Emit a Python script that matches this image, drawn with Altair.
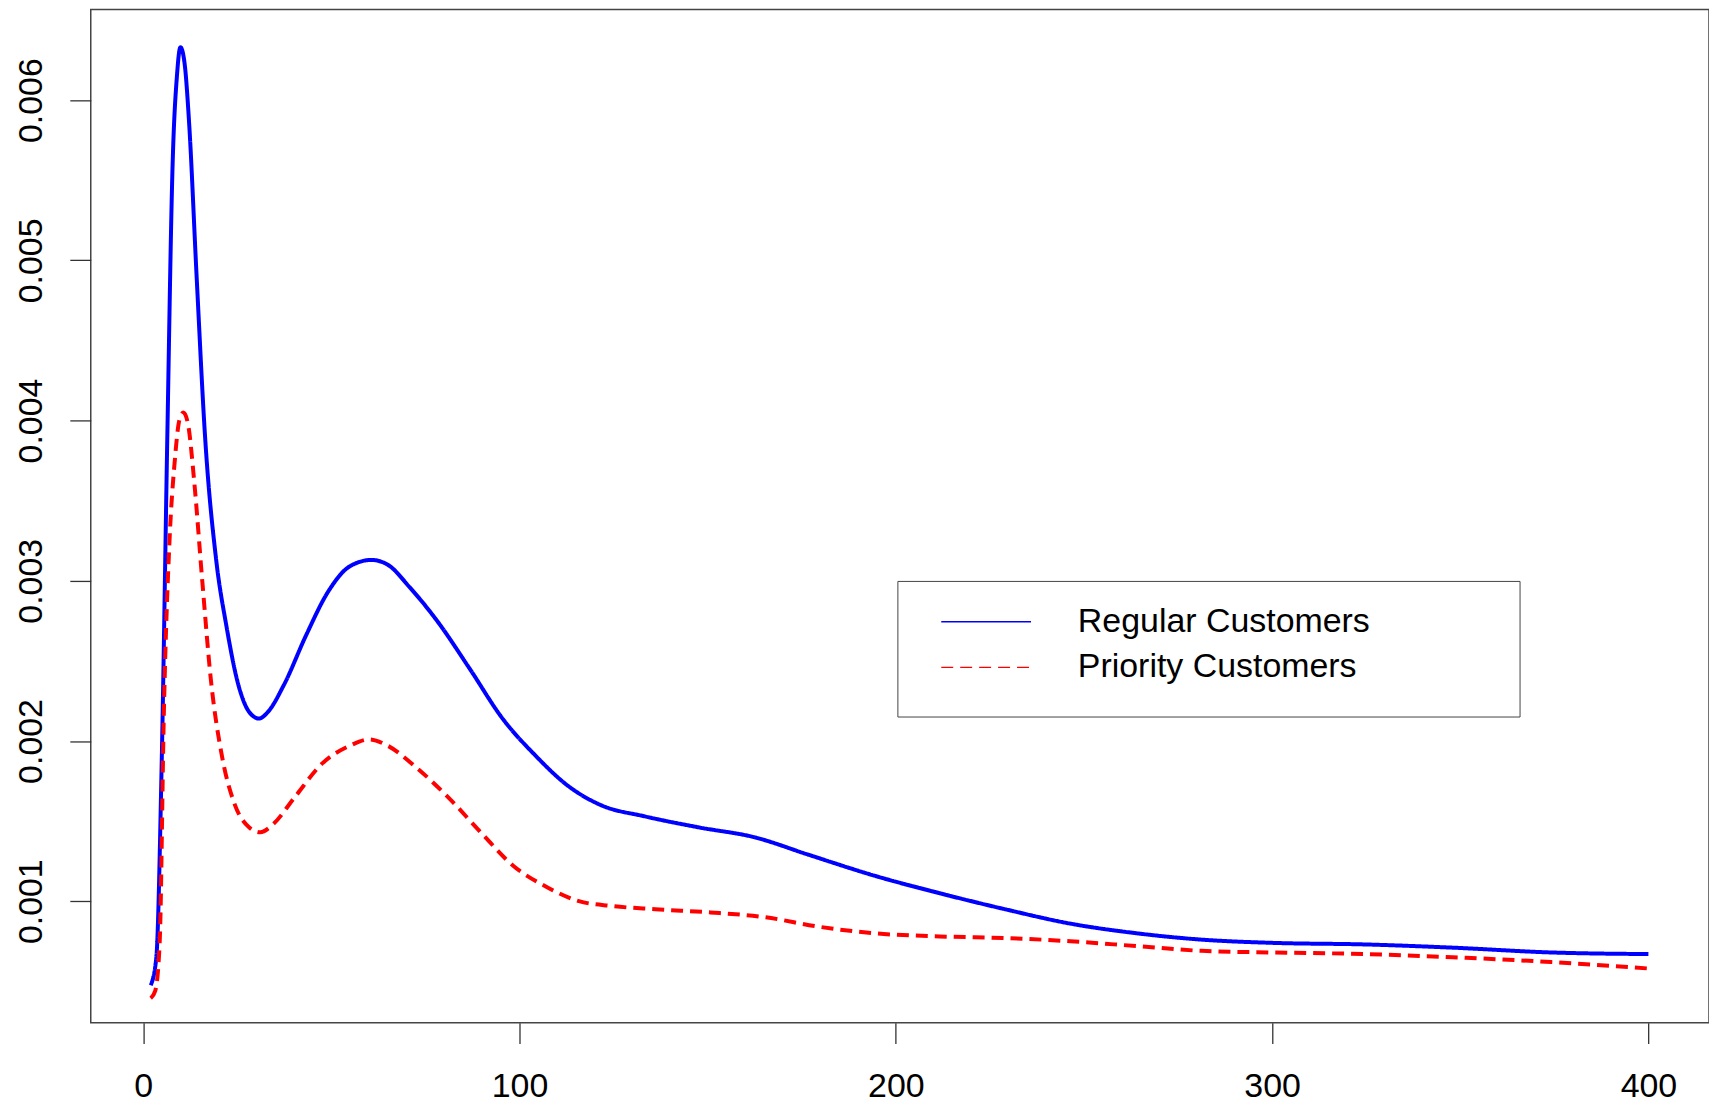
import altair as alt
import pandas as pd

series_names = ["Regular Customers", "Priority Customers"]

regular_x = [2, 3.5, 4.9, 6.4, 7.8, 9.0, 9.9, 11.0, 12.2, 14.2, 16.5, 19.4, 22.1, 25.3,
             28.2, 30.8, 33.1, 37.4, 43.3, 49.1, 54.9, 60.7, 65.0, 70.8, 78.1, 86.8,
             95.5, 104.2, 112.9, 121.6, 133.2, 147.8, 162.3, 176.8, 194.2, 211.6,
             229.0, 246.4, 263.9, 281.3, 300.0, 324.8, 348.0, 374.2, 400.0]
regular_y = [0.000475, 0.00065, 0.00184, 0.00388, 0.00558, 0.00616, 0.00633, 0.00623,
             0.00586, 0.0049, 0.00388, 0.00313, 0.00272, 0.00235, 0.00218, 0.00214,
             0.00218, 0.00235, 0.00266, 0.00293, 0.00309, 0.00313, 0.0031, 0.00296,
             0.00275, 0.00245, 0.00214, 0.00191, 0.00172, 0.0016, 0.00153, 0.00146,
             0.0014, 0.00129, 0.00116, 0.00105, 0.00095, 0.00086, 0.0008, 0.00076,
             0.00074, 0.00073, 0.00071, 0.00068, 0.00067]

priority_x = [2, 3.2, 4.4, 5.5, 7.0, 8.4, 9.6, 10.7, 11.9, 13.6, 15.7, 18.0, 20.9, 24.4,
              28.2, 31.1, 34.5, 40.3, 47.6, 54.9, 60.1, 65.0, 72.3, 81.0, 89.7, 98.4,
              107.1, 115.8, 124.5, 136.1, 150.7, 165.2, 179.7, 194.2, 211.6, 229.0,
              246.4, 263.9, 281.3, 300.0, 324.8, 348.0, 374.2, 400.0]
priority_y = [0.000394, 0.00044, 0.00075, 0.00218, 0.00325, 0.00375, 0.00400, 0.00405,
              0.00398, 0.00361, 0.003, 0.00238, 0.00191, 0.0016, 0.00146, 0.00143,
              0.00148, 0.00165, 0.00186, 0.00197, 0.00201, 0.00197, 0.00184, 0.00165,
              0.00143, 0.00122, 0.00109, 0.001, 0.00097, 0.00095, 0.00093, 0.0009,
              0.00084, 0.0008, 0.00078, 0.00077, 0.00075, 0.00072, 0.00069, 0.00068,
              0.00067, 0.00065, 0.00062, 0.00058]

x_ticks = [0, 100, 200, 300, 400]
y_ticks = [0.001, 0.002, 0.003, 0.004, 0.005, 0.006]

df = pd.concat([
    pd.DataFrame({"x": regular_x, "y": regular_y, "series": series_names[0]}),
    pd.DataFrame({"x": priority_x, "y": priority_y, "series": series_names[1]}),
], ignore_index=True)

FONT = "Liberation Sans"

legend = alt.Legend(
    title=" ", titleOrient="right", titlePadding=126, titleFontSize=89, titleFont=FONT,
    titleBaseline="top", titleAnchor="start",
    orient="none", legendX=809, legendY=573, direction="vertical",
    symbolType="stroke", symbolSize=8100, symbolStrokeWidth=1.5, symbolOpacity=1,
    clipHeight=34, rowPadding=11.7, padding=24, symbolOffset=19, labelOffset=46,
    labelFontSize=34, labelFont=FONT, labelColor="black", labelLimit=1000,
    strokeColor="#444", fillColor="white",
)

chart = alt.Chart(df).mark_line(
    strokeWidth=4, interpolate="monotone", strokeJoin="round", strokeCap="butt"
).encode(
    x=alt.X("x:Q", scale=alt.Scale(domain=[-13.93, 416.1], nice=False, zero=False),
            axis=alt.Axis(values=x_ticks, title=None, format="d", labelAngle=0,
                          labelAlign="center", labelBaseline="alphabetic",
                          labelPadding=52.7)),
    y=alt.Y("y:Q", scale=alt.Scale(domain=[0.000242, 0.006565], nice=False, zero=False),
            axis=alt.Axis(values=y_ticks, title=None, format=".3f", labelAngle=270,
                          labelAlign="center", labelBaseline="alphabetic",
                          labelPadding=28.7)),
    color=alt.Color("series:N", sort=series_names,
                    scale=alt.Scale(domain=series_names, range=["#0000FF", "#FF0000"]),
                    legend=legend),
    strokeDash=alt.StrokeDash("series:N", sort=series_names,
                              scale=alt.Scale(domain=series_names, range=[[1, 0], [12, 7]]),
                              legend=legend),
    order=alt.Order("x:Q"),
).properties(
    width=1623, height=1016,
    background="white",
    autosize=alt.AutoSizeParams(type="none"),
    padding={"left": 83, "top": 0, "right": 0, "bottom": 82},
).configure_view(
    stroke="#444", strokeWidth=1.5,
).configure_axis(
    grid=False, domain=False, tickColor="#333", tickWidth=1.3, tickSize=21,
    labelFont=FONT, labelFontSize=34, labelColor="black", labelOverlap=False,
    labelFlush=False,
)

chart.save("out.html", embed_options={"renderer": "svg", "actions": False})
